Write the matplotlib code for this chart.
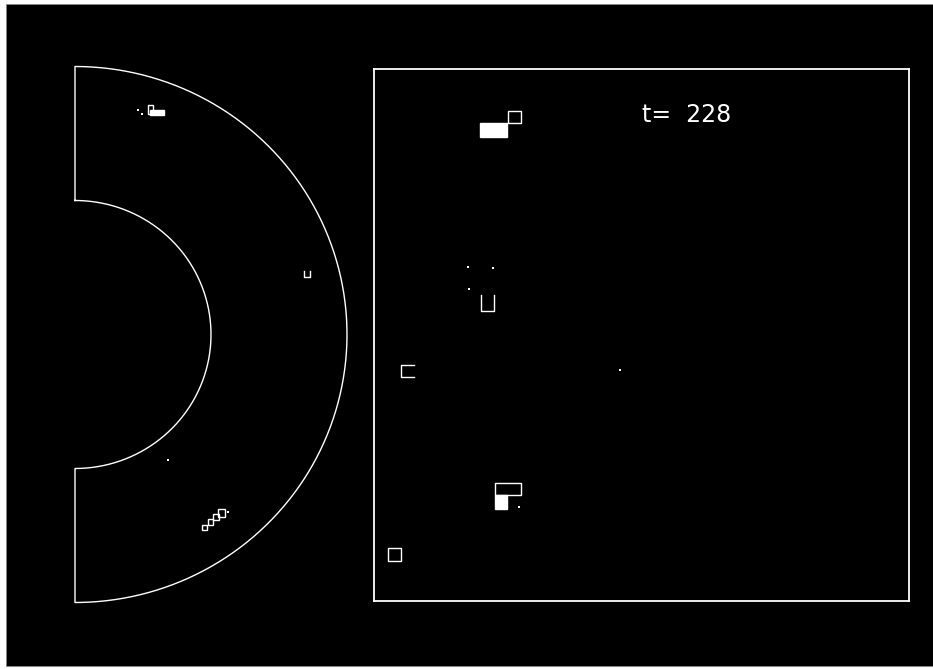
import numpy as np
import matplotlib
matplotlib.use("Agg")
import matplotlib.pyplot as plt
from matplotlib.patches import Rectangle

# ── simulation snapshot ──────────────────────────────────────────────────────
T_STEP = 228
R_IN, R_OUT = 0.5, 1.0                  # half-annulus radii (outer = 1)

# annulus frame: cells as (x0, y0, w, h) and how they are drawn
ann_x0 = [0.276, 0.269, 0.842, 0.468, 0.489, 0.508, 0.527]
ann_y0 = [0.819, 0.824, 0.216, -0.728, -0.710, -0.691, -0.681]
ann_w = [0.051, 0.016, 0.022, 0.016, 0.019, 0.023, 0.024]
ann_h = [0.018, 0.031, 0.021, 0.016, 0.020, 0.020, 0.029]
ann_kind = ["fill", "box", "u", "box", "box", "box", "box"]
# loose tracer points in the annulus
ann_dot_x = [0.232, 0.246, 0.561, 0.342]
ann_dot_y = [0.836, 0.821, -0.662, -0.469]

# box frame: cells as (x0, y0, w, h) and how they are drawn
box_x0 = [0.199, 0.250, 0.200, 0.051, 0.226, 0.226, 0.026]
box_y0 = [0.873, 0.898, 0.545, 0.421, 0.199, 0.173, 0.076]
box_w = [0.050, 0.024, 0.025, 0.024, 0.048, 0.022, 0.024]
box_h = [0.025, 0.023, 0.030, 0.023, 0.023, 0.026, 0.024]
box_kind = ["fill", "box", "u", "c", "box", "fill", "box"]
box_dot_x = [0.271, 0.460, 0.176, 0.222, 0.178]
box_dot_y = [0.177, 0.434, 0.628, 0.626, 0.587]

LW = 1.0
FG = "white"


def draw_cell(ax, x0, y0, w, h, kind):
    if kind == "fill":
        ax.add_patch(Rectangle((x0, y0), w, h, facecolor=FG, edgecolor=FG, lw=LW))
    elif kind == "box":
        ax.add_patch(Rectangle((x0, y0), w, h, facecolor="none", edgecolor=FG, lw=LW))
    elif kind == "u":      # open on top
        ax.plot([x0, x0, x0 + w, x0 + w], [y0 + h, y0, y0, y0 + h], color=FG, lw=LW)
    elif kind == "c":      # open on the right
        ax.plot([x0 + w, x0, x0, x0 + w], [y0 + h, y0 + h, y0, y0], color=FG, lw=LW)


fig = plt.figure(figsize=(9.33, 6.69), dpi=100, facecolor="white")
# black canvas (white margin only along the left, top and bottom)
fig.add_artist(Rectangle((6 / 933, 3 / 669), 927 / 933, 662 / 669,
                         transform=fig.transFigure, facecolor="black",
                         edgecolor="#888888", lw=0.6, zorder=-10))

# ── left: half annulus ──
axl = fig.add_axes([61.4 / 933, 53.1 / 669, 299.2 / 933, 562.8 / 669])
axl.set_xlim(-0.05, 1.05)
axl.set_ylim(-1.05, 1.05)
axl.axis("off")

th_out = np.linspace(np.pi / 2, -np.pi / 2, 300)
th_in = th_out[::-1]
xs = np.concatenate([[0.0], R_OUT * np.cos(th_out), [0.0], R_IN * np.cos(th_in), [0.0]])
ys = np.concatenate([[R_IN], R_OUT * np.sin(th_out), [-R_IN], R_IN * np.sin(th_in), [R_IN]])
axl.plot(xs, ys, color=FG, lw=LW)

for x0, y0, w, h, k in zip(ann_x0, ann_y0, ann_w, ann_h, ann_kind):
    draw_cell(axl, x0, y0, w, h, k)
axl.scatter(ann_dot_x, ann_dot_y, s=2, color=FG, marker="s", lw=0)

# ── right: square box ──
axr = fig.add_axes([374 / 933, 68 / 669, 535 / 933, 532 / 669])
axr.set_xlim(0, 1)
axr.set_ylim(0, 1)
axr.set_xticks([])
axr.set_yticks([])
axr.set_facecolor("black")
for sp in axr.spines.values():
    sp.set_color(FG)
    sp.set_linewidth(1.3)

for x0, y0, w, h, k in zip(box_x0, box_y0, box_w, box_h, box_kind):
    draw_cell(axr, x0, y0, w, h, k)
axr.scatter(box_dot_x, box_dot_y, s=2, color=FG, marker="s", lw=0)

axr.text(0.501, 0.900, f"t={T_STEP:5d}", color=FG, fontsize=17,
         ha="left", va="baseline", family="DejaVu Sans")

fig.savefig("out.png", dpi=100, facecolor=fig.get_facecolor())
